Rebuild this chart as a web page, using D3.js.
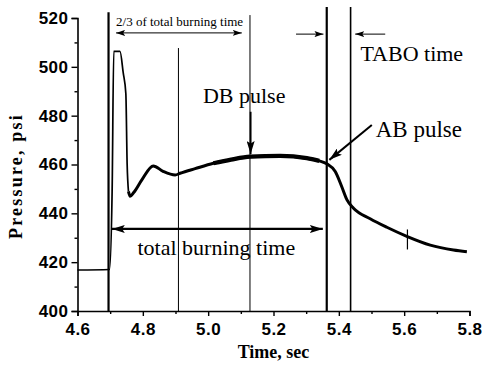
<!DOCTYPE html>
<html>
<head>
<meta charset="utf-8">
<script src="https://cdn.jsdelivr.net/npm/d3@7/dist/d3.min.js"></script>
<style>
  html, body { margin: 0; padding: 0; background: #fff; }
  svg { display: block; }
  .tick text { font-family: "Liberation Sans", Arial, sans-serif; font-weight: bold; font-size: 17px; fill: #000; letter-spacing: 0.5px; }
  .ann { font-family: "Liberation Serif", "Times New Roman", serif; fill: #000; }
</style>
</head>
<body>
<svg id="chart" width="482" height="371"></svg>
<script>
// Pressure trace (time in s, pressure in psi)
const times = [4.600, 4.698, 4.706, 4.711, 4.730, 4.740, 4.748, 4.752, 4.756, 4.761, 4.772, 4.797, 4.832, 4.862, 4.899, 4.914, 4.960, 5.016, 5.070, 5.128, 5.220, 5.302, 5.340, 5.363, 5.389, 5.409, 5.425, 5.445, 5.496, 5.547, 5.608, 5.680, 5.751, 5.792];
const pressures = [416.8, 417.0, 449.0, 506.3, 506.3, 497.5, 489.0, 460.0, 449.0, 447.0, 448.5, 453.7, 459.4, 457.2, 455.7, 456.4, 458.3, 460.5, 462.0, 463.2, 463.5, 462.6, 461.5, 460.3, 457.1, 450.9, 445.5, 442.1, 437.8, 434.3, 430.6, 427.0, 425.0, 424.3];

// Noise spike on the decay tail (time, low and high psi)
const spikeTime = 5.610;
const spikeRange = [425.2, 433.4];

// Event markers (time, top of line in psi, stroke width)
const markerTimes = [4.695, 4.909, 5.128, 5.363, 5.436];
const markerTops = [522.4, 507.7, 521.2, 524.5, 524.5];
const markerWidths = [2.2, 1, 1, 2.2, 1.6];

// Axis ticks
const xMajor = [4.6, 4.8, 5.0, 5.2, 5.4, 5.6, 5.8];
const xMinor = [4.7, 4.9, 5.1, 5.3, 5.5, 5.7];
const yMajor = [400, 420, 440, 460, 480, 500, 520];
const yMinor = [410, 430, 450, 470, 490, 510];

const svg = d3.select("#chart");
const x = d3.scaleLinear().domain([4.6, 5.8]).range([77.5, 469.5]);
const y = d3.scaleLinear().domain([400, 520]).range([311, 18]);

// arrowheads
const defs = svg.append("defs");
function head(id, w, h) {
  defs.append("marker").attr("id", id)
    .attr("viewBox", `0 0 ${w} ${h}`).attr("refX", w).attr("refY", h / 2)
    .attr("markerWidth", w).attr("markerHeight", h)
    .attr("markerUnits", "userSpaceOnUse").attr("orient", "auto-start-reverse")
    .append("path").attr("d", `M0,0L${w},${h / 2}L0,${h}L${w * 0.2},${h / 2}Z`).attr("fill", "#000");
}
head("hs", 9, 6);
head("hl", 13, 8);

// axes
const gx = svg.append("g").attr("transform", "translate(0,311)");
gx.call(d3.axisBottom(x).tickValues(xMajor).tickFormat(d3.format(".1f")).tickSize(5).tickPadding(7));
const gxm = svg.append("g").attr("transform", "translate(0,311)");
gxm.call(d3.axisBottom(x).tickValues(xMinor).tickFormat("").tickSize(3));
const gy = svg.append("g").attr("transform", "translate(77.5,0)");
gy.call(d3.axisLeft(y).tickValues(yMajor).tickSize(6).tickPadding(3));
const gym = svg.append("g").attr("transform", "translate(77.5,0)");
gym.call(d3.axisLeft(y).tickValues(yMinor).tickFormat("").tickSize(3));
svg.selectAll(".domain").attr("stroke", "#000").attr("stroke-width", 1.6);
svg.selectAll(".tick line").attr("stroke", "#000").attr("stroke-width", 1.4);
gxm.select(".domain").remove();
gym.select(".domain").remove();

// axis titles
svg.append("text").attr("class", "ann").attr("x", 273.5).attr("y", 358)
  .attr("text-anchor", "middle").attr("font-weight", "bold").attr("font-size", 18)
  .text("Time, sec");
svg.append("text").attr("class", "ann")
  .attr("transform", "translate(22,176) rotate(-90)")
  .attr("text-anchor", "middle").attr("font-weight", "bold").attr("font-size", 18)
  .attr("letter-spacing", 2.2)
  .text("Pressure, psi");

// vertical event lines
markerTimes.forEach((t, i) => {
  svg.append("line")
    .attr("x1", x(t)).attr("x2", x(t))
    .attr("y1", y(markerTops[i])).attr("y2", y(400))
    .attr("stroke", "#000").attr("stroke-width", markerWidths[i]);
});

// pressure curve: thin initial spike, heavier noisy body
const pts = times.map((t, i) => [t, pressures[i]]);
const line = d3.line().x(d => x(d[0])).y(d => y(d[1])).curve(d3.curveMonotoneX);
const split = times.indexOf(4.756);
svg.append("path").attr("d", line(pts.slice(0, split + 1)))
  .attr("fill", "none").attr("stroke", "#000").attr("stroke-width", 1.7).attr("stroke-linejoin", "round");
svg.append("path").attr("d", line(pts.slice(split)))
  .attr("fill", "none").attr("stroke", "#000").attr("stroke-width", 3).attr("stroke-linejoin", "round");
svg.append("path").attr("d", line(pts.filter(d => d[0] >= 5.0 && d[0] <= 5.36)))
  .attr("fill", "none").attr("stroke", "#000").attr("stroke-width", 4.2);
svg.append("line")
  .attr("x1", x(spikeTime)).attr("x2", x(spikeTime))
  .attr("y1", y(spikeRange[0])).attr("y2", y(spikeRange[1]))
  .attr("stroke", "#000").attr("stroke-width", 1.2);

// annotation arrows
function arrow(t1, p1, t2, p2, w, id, both) {
  const l = svg.append("line")
    .attr("x1", x(t1)).attr("y1", y(p1)).attr("x2", x(t2)).attr("y2", y(p2))
    .attr("stroke", "#000").attr("stroke-width", w)
    .attr("marker-end", `url(#${id})`);
  if (both) l.attr("marker-start", `url(#${id})`);
}
arrow(4.718, 513.9, 5.103, 513.9, 1, "hs", true);
arrow(4.705, 433.6, 5.351, 433.6, 2.2, "hl", true);
arrow(5.269, 513.4, 5.353, 513.4, 1, "hs", false);
arrow(5.542, 513.4, 5.450, 513.4, 1, "hs", false);
arrow(5.130, 481.6, 5.130, 464.3, 1.8, "hl", false);
arrow(5.501, 476.2, 5.371, 461.9, 2, "hl", false);

// annotation labels
function label(t, p, txt, size, anchor) {
  svg.append("text").attr("class", "ann").attr("x", x(t)).attr("y", y(p))
    .attr("font-size", size).attr("text-anchor", anchor || "start").text(txt);
}
label(4.718, 516.9, "2/3 of total burning time", 13);
label(5.466, 502.4, "TABO time", 22);
label(4.984, 485.2, "DB pulse", 22);
label(5.513, 471.3, "AB pulse", 23);
label(5.025, 423.0, "total burning time", 22, "middle");
</script>
</body>
</html>
